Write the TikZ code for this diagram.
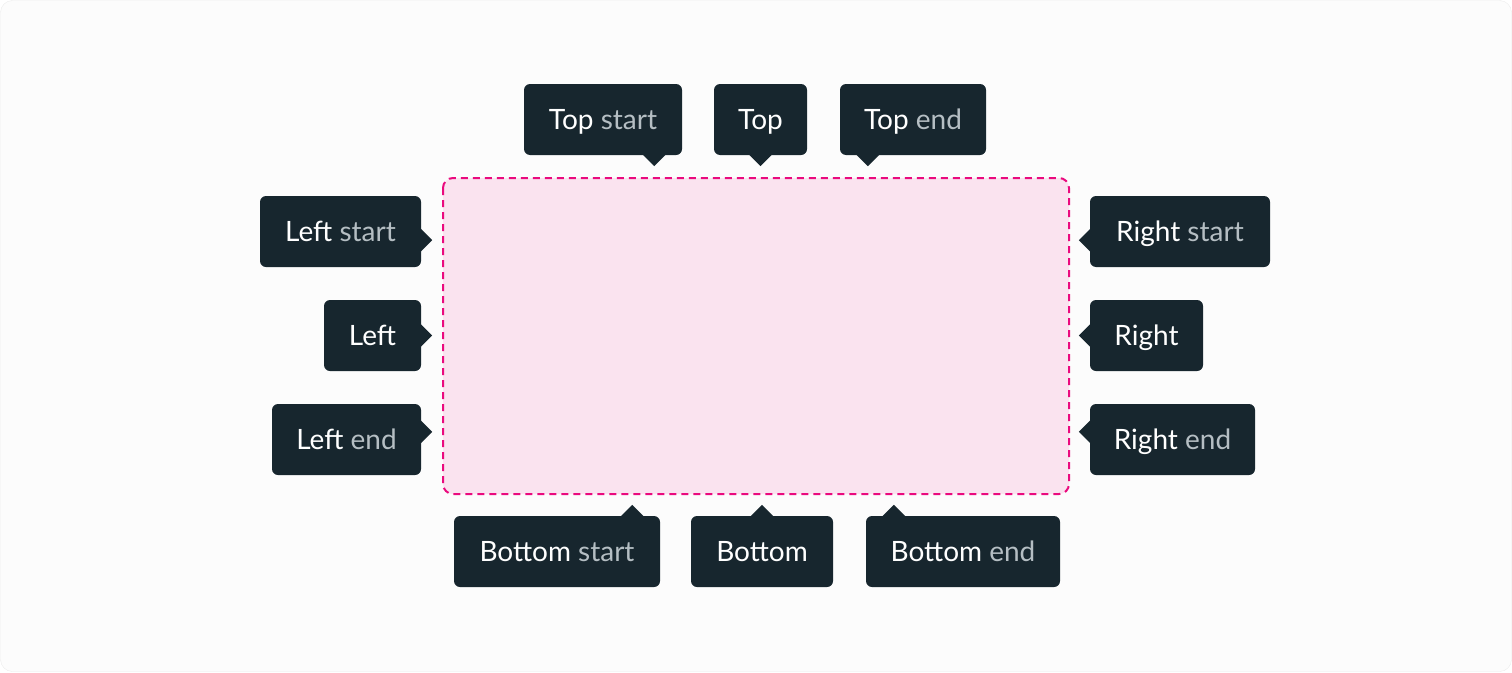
\documentclass[tikz,border=0pt]{standalone}
\usepackage{fontspec}
\setmainfont{Lato}
\definecolor{tipbg}{HTML}{17262E}
\definecolor{tipsub}{HTML}{B5BEC3}
\definecolor{zonefill}{HTML}{FAE3EF}
\definecolor{zoneline}{HTML}{EA0A7E}
\definecolor{pagebg}{HTML}{FCFCFC}
\definecolor{pageline}{HTML}{ECECEC}

% little pointers stuck on the tooltip boxes
\newcommand{\tipdown}[1]{\fill[tipbg] (#1) ++(-12pt,1pt) -- ++(12pt,-12pt) -- ++(12pt,12pt) -- cycle;}
\newcommand{\tipup}[1]{\fill[tipbg] (#1) ++(-12pt,-1pt) -- ++(12pt,12pt) -- ++(12pt,-12pt) -- cycle;}
\newcommand{\tipright}[1]{\fill[tipbg] (#1) ++(-1pt,12pt) -- ++(12pt,-12pt) -- ++(-12pt,-12pt) -- cycle;}
\newcommand{\tipleft}[1]{\fill[tipbg] (#1) ++(1pt,12pt) -- ++(-12pt,-12pt) -- ++(12pt,-12pt) -- cycle;}
\newcommand{\side}[1]{\textcolor{tipsub}{#1}}

\begin{document}
\begin{tikzpicture}[x=1pt,y=-1pt,
        tipbox/.style = {fill=tipbg, text=white, rounded corners=6pt,
                minimum height=71pt, inner xsep=2pt,
                text height=20pt, text depth=0pt,
                font=\fontsize{28}{32}\selectfont},
        zone/.style = {fill=zonefill, draw=zoneline, line width=2pt,
                dash pattern=on 7pt off 5pt, rounded corners=10pt}]
    \draw[fill=pagebg, draw=pageline, rounded corners=12pt] (0.5,0.5) rectangle (1511.5,671.5);
    \useasboundingbox (0,0) rectangle (1512,672);

    \draw[zone] (443,178) rectangle (1069,494);

    % top
    \node[tipbox, minimum width=158pt] (ts) at (603,119.5) {Top \side{start}};
    \node[tipbox, minimum width=93pt] (t) at (760.5,119.5) {Top};
    \node[tipbox, minimum width=146pt] (te) at (913,119.5) {Top \side{end}};
    % left
    \node[tipbox, minimum width=161pt] (ls) at (340.5,231.5) {Left \side{start}};
    \node[tipbox, minimum width=97pt] (l) at (372.5,335.5) {Left};
    \node[tipbox, minimum width=149pt] (le) at (346.5,439.5) {Left \side{end}};
    % right
    \node[tipbox, minimum width=180pt] (rs) at (1180,231.5) {Right \side{start}};
    \node[tipbox, minimum width=113pt] (r) at (1146.5,335.5) {Right};
    \node[tipbox, minimum width=165pt] (re) at (1172.5,439.5) {Right \side{end}};
    % bottom
    \node[tipbox, minimum width=206pt] (bs) at (557,551.5) {Bottom \side{start}};
    \node[tipbox, minimum width=142pt] (b) at (762,551.5) {Bottom};
    \node[tipbox, minimum width=194pt] (be) at (963,551.5) {Bottom \side{end}};

    \tipdown{[xshift=-28pt]ts.south east}
    \tipdown{t.south}
    \tipdown{[xshift=28pt]te.south west}
    \tipright{[yshift=27pt]ls.south east}
    \tipright{l.east}
    \tipright{[yshift=-28pt]le.north east}
    \tipleft{[yshift=27pt]rs.south west}
    \tipleft{r.west}
    \tipleft{[yshift=-28pt]re.north west}
    \tipup{[xshift=-28pt]bs.north east}
    \tipup{b.north}
    \tipup{[xshift=28pt]be.north west}
\end{tikzpicture}
\end{document}
